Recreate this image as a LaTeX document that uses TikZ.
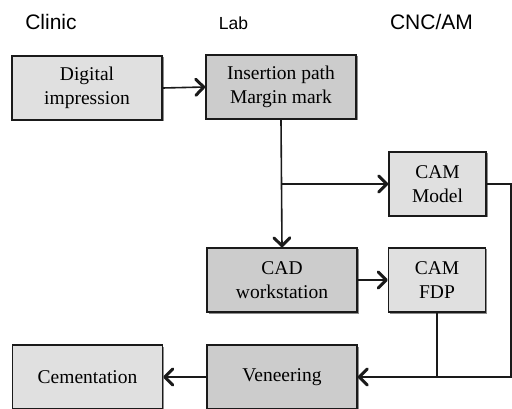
\documentclass[tikz,border=0pt]{standalone}
\usepackage{fontspec}
\setmainfont{Liberation Serif}
\newfontfamily\hdrfont{Liberation Sans}
\usetikzlibrary{shadows,arrows.meta}
\definecolor{boxlight}{HTML}{E0E0E0}
\definecolor{boxdark}{HTML}{CCCCCC}
\definecolor{edgecol}{HTML}{1A1A1A}
\tikzset{
  procbox/.style={draw=edgecol, line width=1.4pt, minimum height=64pt, inner sep=2pt,
    align=center, font=\fontsize{19.5}{23.5}\selectfont,
    drop shadow={shadow xshift=1.5pt, shadow yshift=-1.5pt, opacity=0.45, fill=black}},
  widebox/.style={procbox, minimum width=150pt},
  narrowbox/.style={procbox, minimum width=97pt},
  lightbox/.style={fill=boxlight},
  darkbox/.style={fill=boxdark},
  conn/.style={draw=edgecol, line width=1.6pt},
  arr/.style={conn, -{Straight Barb[length=8pt,width=16pt,line width=3pt,round]}},
  hdr/.style={anchor=base, inner sep=0pt}
}
\begin{document}
\begin{tikzpicture}[x=1pt,y=-1pt]
\useasboundingbox (0,0) rectangle (512,409);
\clip (0,0) rectangle (512,409);
\node[hdr, font=\hdrfont\fontsize{21}{24}\selectfont] (hclinic) at (51,30) {Clinic};
\node[hdr, font=\hdrfont\fontsize{17.5}{20}\selectfont] (hlab) at (233.5,30) {Lab};
\node[hdr, font=\hdrfont\fontsize{21}{24}\selectfont] (hcnc) at (431.5,30) {CNC/AM};

\node[widebox, lightbox] (dig) at (87,88) {Digital\\impression};
\node[widebox, darkbox] (ins) at (281,87) {Insertion path\\Margin mark};
\node[narrowbox, lightbox] (cammod) at (437.5,184) {CAM\\Model};
\node[widebox, darkbox] (cad) at (282,280) {CAD\\workstation};
\node[narrowbox, lightbox] (camfdp) at (437,280) {CAM\\FDP};
\node[widebox, darkbox] (ven) at (282,377) {Veneering};
\node[widebox, lightbox] (cem) at (87.5,377) {Cementation};

\coordinate (br) at (ins.south |- cammod.west);
\coordinate (rtop) at (511,184);
\coordinate (rbot) at (511,377);
\coordinate (fdpjoin) at (camfdp.south |- ven.east);

\draw[arr] (dig.east) -- (ins.west);
\draw[arr] (ins.south) -- (cad.north);
\draw[arr] (br) -- (cammod.west);
\draw[arr] (cad.east) -- (camfdp.west);
\draw[conn] (cammod.east) -- (rtop) -- (rbot) -- (fdpjoin);
\draw[conn] (camfdp.south) -- (fdpjoin);
\draw[arr] (fdpjoin) -- (ven.east);
\draw[arr] (ven.west) -- (cem.east);
\end{tikzpicture}
\end{document}
